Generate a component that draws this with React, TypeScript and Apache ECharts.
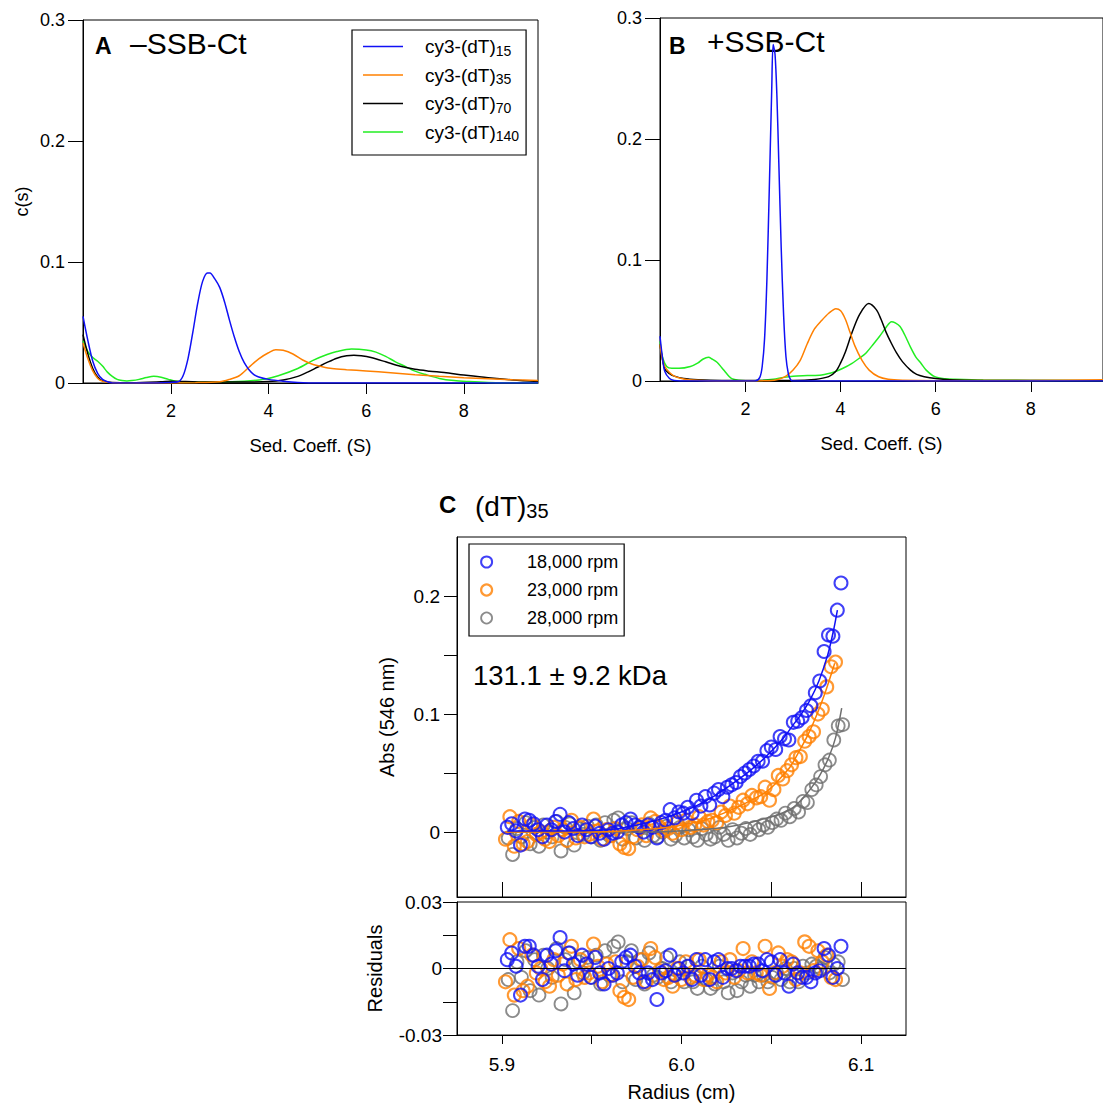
import React, { useEffect, useRef } from 'react';
import * as echarts from 'echarts';

const FONT = "'Liberation Sans', Arial, Helvetica, sans-serif";
const BLUE = '#1010F5';
const ORANGE = '#FF8000';
const BLACK = '#000000';
const GREEN = '#22EE22';
const GRAY = '#6E6E6E';

// ---------- Panel A (-SSB-Ct) c(s) distributions ----------
const NAMES = ['cy3-(dT)15', 'cy3-(dT)35', 'cy3-(dT)70', 'cy3-(dT)140'];

const aBlue = [[0.2,0.055],[0.3,0.035],[0.4,0.018],[0.5,0.008],[0.6,0.003],[0.7,0.001],[0.8,0],[1.5,0],[2.0,0.0005],[2.15,0.001],[2.25,0.006],[2.35,0.02],[2.45,0.042],[2.55,0.066],[2.65,0.084],[2.75,0.091],[2.8,0.091],[2.9,0.086],[3.0,0.079],[3.1,0.067],[3.2,0.052],[3.3,0.038],[3.4,0.026],[3.5,0.017],[3.6,0.011],[3.7,0.007],[3.8,0.005],[4.0,0.003],[4.3,0.0015],[4.6,0.0005],[5.0,0],[9.52,0]];
const aOrange = [[0.2,0.033],[0.3,0.02],[0.4,0.01],[0.5,0.004],[0.6,0.0015],[0.8,0.0003],[1.5,0],[2.5,0.0003],[3.0,0.001],[3.2,0.003],[3.4,0.006],[3.6,0.013],[3.8,0.02],[4.0,0.025],[4.15,0.0275],[4.3,0.027],[4.5,0.024],[4.7,0.019],[4.9,0.0155],[5.1,0.0135],[5.3,0.012],[5.6,0.011],[6.0,0.01],[6.5,0.0085],[7.0,0.0068],[7.5,0.0055],[8.0,0.0044],[8.5,0.0035],[9.0,0.0027],[9.52,0.002]];
const aBlack = [[0.2,0.04],[0.3,0.024],[0.4,0.012],[0.5,0.005],[0.6,0.002],[0.8,0.0005],[1.2,0.0003],[1.8,0.001],[2.0,0.0015],[2.3,0.0012],[2.8,0.0008],[3.5,0.0008],[4.0,0.0012],[4.3,0.0025],[4.6,0.0055],[4.8,0.009],[5.0,0.013],[5.2,0.017],[5.4,0.0205],[5.6,0.0225],[5.75,0.023],[5.9,0.0225],[6.1,0.021],[6.4,0.0175],[6.7,0.0138],[7.0,0.0113],[7.3,0.0098],[7.6,0.0086],[8.0,0.0066],[8.5,0.0043],[9.0,0.0025],[9.52,0.0013]];
const aGreen = [[0.2,0.035],[0.3,0.026],[0.4,0.021],[0.5,0.018],[0.6,0.014],[0.7,0.009],[0.8,0.0055],[0.9,0.003],[1.0,0.002],[1.1,0.0017],[1.2,0.002],[1.35,0.003],[1.5,0.0045],[1.65,0.0055],[1.8,0.0048],[1.95,0.003],[2.1,0.0015],[2.4,0.0008],[3.0,0.0008],[3.5,0.0014],[3.9,0.003],[4.2,0.006],[4.6,0.012],[4.9,0.0185],[5.2,0.0235],[5.4,0.026],[5.7,0.028],[6.0,0.0273],[6.2,0.0255],[6.4,0.022],[6.6,0.0175],[6.8,0.0137],[7.0,0.0098],[7.2,0.0072],[7.5,0.0038],[7.8,0.002],[8.1,0.0012],[8.5,0.0005],[9.0,0.0002],[9.52,0]];

// ---------- Panel B (+SSB-Ct) ----------
const bBlue = [[0.2,0.037],[0.25,0.02],[0.3,0.008],[0.4,0.002],[0.5,0.0005],[0.8,0],[2.2,0],[2.3,0.003],[2.35,0.012],[2.4,0.035],[2.45,0.085],[2.5,0.16],[2.55,0.24],[2.58,0.278],[2.62,0.27],[2.66,0.235],[2.7,0.18],[2.75,0.11],[2.8,0.055],[2.85,0.02],[2.9,0.006],[2.95,0.001],[3.0,0],[9.52,0]];
const bOrange = [[0.2,0.03],[0.25,0.018],[0.3,0.012],[0.4,0.007],[0.5,0.004],[0.65,0.002],[0.8,0.001],[1.2,0.0003],[2.0,0],[2.5,0.0003],[2.7,0.0015],[2.85,0.004],[3.0,0.009],[3.15,0.017],[3.3,0.031],[3.45,0.043],[3.6,0.05],[3.75,0.056],[3.9,0.0598],[4.0,0.058],[4.1,0.051],[4.2,0.04],[4.3,0.029],[4.45,0.017],[4.6,0.009],[4.8,0.0035],[5.0,0.0015],[5.3,0.0007],[6.0,0.0003],[8.0,0.0005],[9.52,0.001]];
const bBlack = [[0.2,0.03],[0.3,0.01],[0.4,0.006],[0.5,0.004],[0.7,0.002],[1.0,0.001],[1.5,0.0005],[2.5,0.0005],[3.0,0.0005],[3.45,0.0013],[3.75,0.0036],[3.9,0.008],[4.0,0.015],[4.1,0.024],[4.24,0.04],[4.4,0.055],[4.59,0.064],[4.75,0.059],[4.85,0.051],[4.96,0.04],[5.07,0.031],[5.18,0.023],[5.3,0.016],[5.47,0.009],[5.6,0.0055],[5.76,0.0036],[6.0,0.002],[6.3,0.001],[7.0,0.0005],[9.52,0.0003]];
const bGreen = [[0.2,0.033],[0.25,0.02],[0.34,0.012],[0.45,0.0105],[0.6,0.0105],[0.84,0.012],[1.0,0.015],[1.1,0.018],[1.22,0.0196],[1.3,0.018],[1.4,0.0155],[1.5,0.011],[1.57,0.0077],[1.65,0.004],[1.71,0.002],[1.85,0.0007],[2.0,0.0003],[2.3,0.0005],[2.58,0.0014],[2.8,0.003],[3.0,0.004],[3.3,0.0045],[3.6,0.005],[3.88,0.0077],[4.05,0.0105],[4.24,0.0146],[4.4,0.019],[4.53,0.023],[4.7,0.031],[4.82,0.037],[4.95,0.044],[5.07,0.049],[5.15,0.048],[5.25,0.045],[5.35,0.038],[5.47,0.028],[5.58,0.02],[5.69,0.0146],[5.8,0.009],[5.98,0.0036],[6.2,0.0018],[6.41,0.0014],[7.0,0.0008],[8.0,0.0005],[9.52,0.0003]];

// ---------- Panel C: (dT)35 sedimentation equilibrium ----------
const RPM = ['18,000 rpm', '23,000 rpm', '28,000 rpm'];

const blueX = [5.903,5.90545,5.9079,5.91035,5.9128,5.91525,5.9177,5.92015,5.9226,5.92505,5.9275,5.92995,5.9324,5.93485,5.9373,5.93975,5.9422,5.94465,5.9471,5.94955,5.952,5.95445,5.9569,5.95935,5.9618,5.96425,5.9667,5.96915,5.9716,5.97405,5.9765,5.97895,5.9814,5.98385,5.9863,5.98875,5.9912,5.99365,5.9961,5.99855,6.001,6.00345,6.0059,6.00835,6.0108,6.01325,6.0157,6.01815,6.0206,6.02305,6.0255,6.02795,6.0304,6.03285,6.0353,6.03775,6.0402,6.04265,6.0451,6.04755,6.05,6.05245,6.0549,6.05735,6.0598,6.06225,6.0647,6.06715,6.0696,6.07205,6.0745,6.07695,6.0794,6.08185,6.0843,6.08675,6.0888];
const blueAbs = [0.004,0.007,0.001,-0.011,0.011,0.010,0.007,0.002,-0.004,0.006,0.002,0.009,0.015,0.000,0.008,0.003,-0.003,0.006,0.002,-0.004,0.005,-0.001,-0.006,0.002,-0.001,0.000,0.006,0.008,0.011,0.006,0.004,0.000,0.006,0.004,-0.005,0.008,0.010,0.019,0.012,0.017,0.016,0.021,0.016,0.027,0.022,0.030,0.023,0.033,0.036,0.030,0.038,0.040,0.042,0.047,0.050,0.053,0.056,0.060,0.060,0.069,0.072,0.070,0.081,0.079,0.078,0.093,0.094,0.097,0.103,0.107,0.118,0.128,0.153,0.167,0.166,0.188,0.211];
const blueRes = [0.004,0.007,0.001,-0.012,0.010,0.010,0.006,0.001,-0.005,0.006,0.002,0.008,0.014,-0.001,0.007,0.002,-0.003,0.006,0.002,-0.004,0.005,-0.002,-0.007,0.000,-0.003,-0.002,0.003,0.005,0.006,0.001,-0.002,-0.006,-0.002,-0.005,-0.014,-0.002,-0.001,0.006,-0.003,0.000,-0.002,0.001,-0.005,0.004,-0.003,0.004,-0.005,0.003,0.004,-0.004,0.000,0.000,-0.001,0.001,0.001,0.001,0.002,0.002,-0.001,0.004,0.003,-0.003,0.004,-0.002,-0.008,0.002,-0.002,-0.004,-0.004,-0.006,-0.002,-0.001,0.009,0.006,-0.004,0.000,0.010];
const blueFit = [[5.903,0.001],[5.9295,0.001],[5.9589,0.002],[5.9687,0.004],[5.9785,0.007],[5.9883,0.011],[5.9981,0.016],[6.0079,0.022],[6.0177,0.03],[6.0275,0.04],[6.0373,0.051],[6.0471,0.064],[6.0569,0.08],[6.0618,0.09],[6.0667,0.1],[6.0716,0.112],[6.0765,0.128],[6.0814,0.15],[6.0848,0.172],[6.0868,0.188]];

const orangeX = [5.902,5.90445,5.9069,5.90935,5.9118,5.91425,5.9167,5.91915,5.9216,5.92405,5.9265,5.92895,5.9314,5.93385,5.9363,5.93875,5.9412,5.94365,5.9461,5.94855,5.951,5.95345,5.9559,5.95835,5.9608,5.96325,5.9657,5.96815,5.9706,5.97305,5.9755,5.97795,5.9804,5.98285,5.9853,5.98775,5.9902,5.99265,5.9951,5.99755,6.0,6.00245,6.0049,6.00735,6.0098,6.01225,6.0147,6.01715,6.0196,6.02205,6.0245,6.02695,6.0294,6.03185,6.0343,6.03675,6.0392,6.04165,6.0441,6.04655,6.049,6.05145,6.0539,6.05635,6.0588,6.06125,6.0637,6.06615,6.0686,6.07105,6.0735,6.07595,6.0784,6.08085,6.0833,6.08575];
const orangeAbs = [-0.006,0.013,-0.012,0.009,-0.010,-0.008,0.006,-0.002,0.000,-0.006,-0.008,0.004,-0.003,0.002,-0.007,0.010,-0.005,0.004,-0.004,-0.002,0.011,0.001,-0.006,0.002,-0.003,0.003,-0.010,-0.013,-0.014,-0.004,0.002,0.006,-0.003,0.012,0.009,0.004,0.001,0.003,-0.001,0.008,0.002,0.010,0.004,0.006,0.013,0.006,0.009,0.010,0.008,0.017,0.014,0.022,0.016,0.021,0.027,0.024,0.031,0.029,0.030,0.038,0.027,0.036,0.048,0.045,0.052,0.057,0.063,0.064,0.077,0.081,0.085,0.100,0.104,0.123,0.140,0.144];
const orangeRes = [-0.006,0.013,-0.012,0.009,-0.010,-0.008,0.006,-0.002,0.000,-0.006,-0.008,0.004,-0.003,0.002,-0.007,0.010,-0.005,0.004,-0.004,-0.002,0.011,0.001,-0.006,0.002,-0.003,0.003,-0.010,-0.013,-0.014,-0.004,0.001,0.004,-0.006,0.009,0.005,-0.001,-0.005,-0.004,-0.008,0.000,-0.005,0.003,-0.004,-0.003,0.004,-0.005,-0.003,-0.004,-0.006,0.003,-0.002,0.004,-0.004,-0.001,0.009,-0.002,0.003,-0.002,-0.003,0.010,-0.009,-0.002,0.007,0.001,0.004,0.003,-0.005,-0.002,0.012,0.010,-0.001,0.008,0.003,0.006,-0.004,-0.005];
const orangeFit = [[5.902,0.0],[5.948,0.0],[5.9775,0.002],[5.9971,0.005],[6.0069,0.008],[6.0167,0.012],[6.0265,0.018],[6.0363,0.025],[6.0461,0.033],[6.051,0.039],[6.0559,0.047],[6.0608,0.056],[6.0657,0.069],[6.0706,0.083],[6.0755,0.1],[6.0804,0.12],[6.0853,0.143]];

const grayX = [5.9035,5.90595,5.9084,5.91085,5.9133,5.91575,5.9182,5.92065,5.9231,5.92555,5.928,5.93045,5.9329,5.93535,5.9378,5.94025,5.9427,5.94515,5.9476,5.95005,5.9525,5.95495,5.9574,5.95985,5.9623,5.96475,5.9672,5.96965,5.9721,5.97455,5.977,5.97945,5.9819,5.98435,5.9868,5.98925,5.9917,5.99415,5.9966,5.99905,6.0015,6.00395,6.0064,6.00885,6.0113,6.01375,6.0162,6.01865,6.0211,6.02355,6.026,6.02845,6.0309,6.03335,6.0358,6.03825,6.0407,6.04315,6.0456,6.04805,6.0505,6.05295,6.0554,6.05785,6.0603,6.06275,6.0652,6.06765,6.0701,6.07255,6.075,6.07745,6.0799,6.08235,6.0848,6.08725,6.0897];
const grayAbs = [-0.005,-0.019,0.003,-0.004,0.008,-0.010,0.004,-0.012,0.006,0.000,-0.004,0.009,-0.016,0.004,0.007,-0.011,0.003,-0.002,0.005,-0.004,0.006,-0.007,0.008,-0.003,0.010,0.012,-0.006,0.003,0.008,-0.005,0.004,-0.007,0.007,-0.003,-0.004,0.000,0.005,-0.006,-0.003,0.004,-0.005,0.002,-0.004,-0.007,0.003,-0.002,-0.006,-0.004,0.004,-0.002,-0.007,0.002,-0.005,-0.001,0.003,-0.002,0.004,0.002,0.006,0.004,0.008,0.011,0.010,0.016,0.013,0.020,0.017,0.026,0.025,0.036,0.040,0.047,0.057,0.061,0.078,0.090,0.091];
const grayRes = [-0.005,-0.019,0.003,-0.004,0.008,-0.010,0.004,-0.012,0.006,0.000,-0.004,0.009,-0.016,0.004,0.007,-0.011,0.003,-0.002,0.005,-0.004,0.006,-0.007,0.008,-0.003,0.010,0.012,-0.006,0.003,0.008,-0.005,0.004,-0.007,0.007,-0.003,-0.004,0.000,0.005,-0.006,-0.003,0.003,-0.006,0.001,-0.006,-0.009,0.001,-0.005,-0.009,-0.007,0.001,-0.006,-0.011,-0.002,-0.010,-0.006,-0.003,-0.008,-0.003,-0.006,-0.003,-0.006,-0.004,-0.002,-0.005,0.000,-0.006,0.000,-0.006,0.001,-0.002,0.002,0.001,0.000,0.005,-0.002,0.002,0.003,-0.005];
const grayFit = [[5.9035,0.0],[5.979,0.0],[5.9986,0.001],[6.0182,0.003],[6.028,0.005],[6.0378,0.008],[6.0476,0.012],[6.0525,0.014],[6.0574,0.017],[6.0623,0.021],[6.0672,0.028],[6.0721,0.037],[6.077,0.048],[6.0819,0.063],[6.0858,0.08],[6.0892,0.105]];

const sedTicks = [2, 4, 6, 8];
const absTicks = [0, 0.05, 0.1, 0.15, 0.2];
const absLabels = [0, 0.1, 0.2];
const resTicks = [-0.03, -0.015, 0, 0.015, 0.03];
const resLabels = [-0.03, 0, 0.03];
const radTicks = [5.9, 5.95, 6.0, 6.05, 6.1];
const radLabels = [5.9, 6.0, 6.1];

const zip = (xs: number[], ys: number[]) => xs.map((x, i) => [x, ys[i]]);

const lineStyleBlack = { color: '#000', width: 1 };
const txt = (size: number) => ({ color: '#000', fontFamily: FONT, fontSize: size });

function sedX(grid: number) {
  return {
    gridIndex: grid, type: 'value', min: 0.2, max: 9.52,
    axisLine: { show: true, onZero: false, lineStyle: lineStyleBlack },
    axisTick: { show: true, customValues: sedTicks, length: 11, lineStyle: lineStyleBlack },
    axisLabel: { customValues: sedTicks, margin: 19, ...txt(18) },
    splitLine: { show: false },
    name: 'Sed. Coeff. (S)', nameLocation: 'middle', nameGap: 53, nameTextStyle: txt(18.5),
  };
}
function sedY(grid: number, withName: boolean) {
  return {
    gridIndex: grid, type: 'value', min: 0, max: 0.3, interval: 0.1,
    axisLine: { show: true, onZero: false, lineStyle: lineStyleBlack },
    axisTick: { show: true, length: 15, lineStyle: lineStyleBlack },
    axisLabel: { margin: 18, ...txt(18) },
    splitLine: { show: false },
    name: withName ? 'c(s)' : '', nameLocation: 'middle', nameGap: 52, nameRotate: 90, nameTextStyle: txt(18),
  };
}

function curve(name: string, data: number[][], color: string, x: number, y: number) {
  return {
    name, type: 'line', xAxisIndex: x, yAxisIndex: y, data,
    showSymbol: false, symbol: 'none', smooth: 0.3,
    lineStyle: { color, width: 1.5 }, itemStyle: { color }, silent: true,
  };
}

function pts(name: string, xs: number[], ys: number[], color: string, ax: number, bw: number, extra: any = {}) {
  return {
    name, type: 'scatter', xAxisIndex: ax, yAxisIndex: ax, data: zip(xs, ys),
    symbol: 'circle', symbolSize: 13,
    itemStyle: { color: 'rgba(255,255,255,0)', borderColor: color, borderWidth: bw },
    silent: true, ...extra,
  };
}
function fit(name: string, data: number[][], color: string) {
  return {
    name, type: 'line', xAxisIndex: 2, yAxisIndex: 2, data,
    showSymbol: false, symbol: 'none', smooth: 0.3,
    lineStyle: { color, width: 1.5 }, silent: true,
  };
}

const subRich = {
  m: { fontFamily: FONT, fontSize: 19, lineHeight: 22, verticalAlign: 'middle', color: '#000' },
  s: { fontFamily: FONT, fontSize: 14, lineHeight: 14, verticalAlign: 'bottom', color: '#000' },
};

const option: any = {
  animation: false,
  backgroundColor: '#fff',
  grid: [
    { left: 83, top: 20, width: 455, height: 363, show: true, borderColor: '#000', borderWidth: 1 },
    { left: 660, top: 18, width: 455, height: 363, show: true, borderColor: '#000', borderWidth: 1 },
    { left: 457, top: 537, width: 449, height: 360, show: true, borderColor: '#000', borderWidth: 1 },
    { left: 457, top: 902, width: 449, height: 133, show: true, borderColor: '#000', borderWidth: 1 },
  ],
  xAxis: [
    sedX(0),
    sedX(1),
    {
      gridIndex: 2, type: 'value', min: 5.875, max: 6.125,
      axisLine: { show: true, onZero: false, lineStyle: lineStyleBlack },
      axisTick: { show: true, inside: true, customValues: radTicks, length: 15, lineStyle: lineStyleBlack },
      axisLabel: { show: false },
      splitLine: { show: false },
    },
    {
      gridIndex: 3, type: 'value', min: 5.875, max: 6.125,
      axisLine: { show: true, onZero: false, lineStyle: lineStyleBlack },
      axisTick: { show: true, customValues: radTicks, length: 9, lineStyle: lineStyleBlack },
      axisLabel: { customValues: radLabels, margin: 20, formatter: (v: number) => v.toFixed(1), ...txt(19) },
      splitLine: { show: false },
      name: 'Radius (cm)', nameLocation: 'middle', nameGap: 47, nameTextStyle: txt(20),
    },
  ],
  yAxis: [
    sedY(0, true),
    sedY(1, false),
    {
      gridIndex: 2, type: 'value', min: -0.055, max: 0.25,
      axisLine: { show: true, onZero: false, lineStyle: lineStyleBlack },
      axisTick: { show: true, customValues: absTicks, length: 13, lineStyle: lineStyleBlack },
      axisLabel: { customValues: absLabels, margin: 17, formatter: (v: number) => (v === 0 ? '0' : String(Math.round(v * 10) / 10)), ...txt(19) },
      splitLine: { show: false },
      name: 'Abs (546 nm)', nameLocation: 'middle', nameGap: 60, nameRotate: 90, nameTextStyle: txt(20),
    },
    {
      gridIndex: 3, type: 'value', min: -0.03, max: 0.03,
      axisLine: { show: true, onZero: false, lineStyle: lineStyleBlack },
      axisTick: { show: true, customValues: resTicks, length: 14, lineStyle: lineStyleBlack },
      axisLabel: { customValues: resLabels, margin: 15, formatter: (v: number) => (Math.abs(v) < 1e-9 ? '0' : v.toFixed(2)), ...txt(19) },
      splitLine: { show: false },
      name: 'Residuals', nameLocation: 'middle', nameGap: 72, nameRotate: 90, nameTextStyle: txt(20),
    },
  ],
  legend: [
    {
      data: NAMES, left: 352, top: 30, orient: 'vertical', icon: 'rect',
      itemWidth: 40, itemHeight: 1.5, itemGap: 8,
      padding: [7, 7, 12, 11],
      borderColor: '#000', borderWidth: 1.2, backgroundColor: '#fff',
      selectedMode: false,
      formatter: (name: string) => {
        const m = name.match(/^(.*\))(\d+)$/);
        return m ? `{m|${m[1]}}{s|${m[2]}}` : name;
      },
      textStyle: { ...txt(19), padding: [0, 0, 0, 17], rich: subRich },
    },
    {
      data: [
        { name: RPM[0], itemStyle: { color: 'rgba(255,255,255,0)', borderColor: BLUE, borderWidth: 2 } },
        { name: RPM[1], itemStyle: { color: 'rgba(255,255,255,0)', borderColor: ORANGE, borderWidth: 2.2 } },
        { name: RPM[2], itemStyle: { color: 'rgba(255,255,255,0)', borderColor: GRAY, borderWidth: 1.8 } },
      ],
      left: 469, top: 544, orient: 'vertical', icon: 'circle',
      itemWidth: 11, itemHeight: 11, itemGap: 6,
      padding: [7, 6, 7, 11],
      borderColor: '#000', borderWidth: 1.2, backgroundColor: '#fff',
      selectedMode: false,
      textStyle: { ...txt(18), lineHeight: 22, padding: [0, 0, 0, 30] },
    },
  ],
  graphic: [
    { type: 'text', x: 95, y: 46, style: { text: 'A', fontFamily: FONT, fontSize: 23, fontWeight: 'bold', fill: '#000', verticalAlign: 'middle' } },
    { type: 'text', x: 130, y: 43, style: { text: '–SSB-Ct', fontFamily: FONT, fontSize: 30, fill: '#000', verticalAlign: 'middle' } },
    { type: 'text', x: 669, y: 46, style: { text: 'B', fontFamily: FONT, fontSize: 23, fontWeight: 'bold', fill: '#000', verticalAlign: 'middle' } },
    { type: 'text', x: 707, y: 41, style: { text: '+SSB-Ct', fontFamily: FONT, fontSize: 30, fill: '#000', verticalAlign: 'middle' } },
    { type: 'text', x: 439, y: 504, style: { text: 'C', fontFamily: FONT, fontSize: 24, fontWeight: 'bold', fill: '#000', verticalAlign: 'middle' } },
    {
      type: 'text', x: 475, y: 491,
      style: {
        text: '{m|(dT)}{s|35}', fill: '#000',
        rich: {
          m: { fontFamily: FONT, fontSize: 28, lineHeight: 30, verticalAlign: 'middle', fill: '#000' },
          s: { fontFamily: FONT, fontSize: 20, lineHeight: 19, verticalAlign: 'bottom', fill: '#000' },
        },
      },
    },
    { type: 'text', x: 473, y: 675, style: { text: '131.1 ± 9.2 kDa', fontFamily: FONT, fontSize: 27.5, fill: '#000', verticalAlign: 'middle' } },
  ],
  series: [
    curve(NAMES[3], aGreen, GREEN, 0, 0),
    curve(NAMES[2], aBlack, BLACK, 0, 0),
    curve(NAMES[1], aOrange, ORANGE, 0, 0),
    curve(NAMES[0], aBlue, BLUE, 0, 0),
    curve(NAMES[3], bGreen, GREEN, 1, 1),
    curve(NAMES[2], bBlack, BLACK, 1, 1),
    curve(NAMES[1], bOrange, ORANGE, 1, 1),
    curve(NAMES[0], bBlue, BLUE, 1, 1),
    pts(RPM[2], grayX, grayAbs, GRAY, 2, 1.8),
    pts(RPM[1], orangeX, orangeAbs, ORANGE, 2, 2.1),
    pts(RPM[0], blueX, blueAbs, BLUE, 2, 2),
    fit('fit28', grayFit, GRAY),
    fit('fit23', orangeFit, ORANGE),
    fit('fit18', blueFit, BLUE),
    pts(RPM[2], grayX, grayRes, GRAY, 3, 1.8, {
      markLine: {
        silent: true, symbol: 'none', label: { show: false },
        lineStyle: { color: '#000', width: 1, type: 'solid' },
        data: [{ yAxis: 0 }],
      },
    }),
    pts(RPM[1], orangeX, orangeRes, ORANGE, 3, 2.1),
    pts(RPM[0], blueX, blueRes, BLUE, 3, 2),
  ],
};

export default function App() {
  const ref = useRef<HTMLDivElement>(null);
  useEffect(() => {
    if (!ref.current) return;
    const chart = echarts.init(ref.current, null, { renderer: 'svg' });
    chart.setOption(option);
    return () => chart.dispose();
  }, []);
  return (
    <div
      ref={ref}
      style={{ position: 'absolute', left: 0, top: 0, width: 1103, height: 1106, background: '#fff' }}
    />
  );
}
